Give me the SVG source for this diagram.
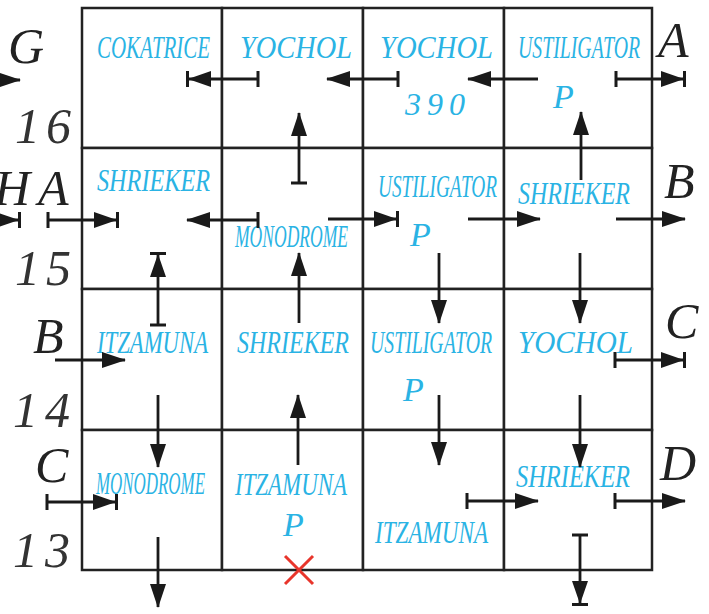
<svg xmlns="http://www.w3.org/2000/svg" width="709" height="614" viewBox="0 0 709 614">
<style>
.cell{fill:#fff;stroke:#222;stroke-width:2.5}
.lb{font-family:"Liberation Serif",serif;font-style:italic;fill:#2ab3e4;font-size:32px}
.p{font-family:"Liberation Serif",serif;font-style:italic;fill:#2ab3e4;font-size:34px}
.k{font-family:"Liberation Serif",serif;font-style:italic;fill:#222;font-size:50px}
.n{font-family:"Liberation Serif",serif;font-style:italic;fill:#333;font-size:50px}
.c line{stroke:#1a1a1a;stroke-width:2.8}
</style>
<defs>
<marker id="arr" markerUnits="userSpaceOnUse" viewBox="0 0 24 16" markerWidth="24" markerHeight="16" refX="23" refY="8" orient="auto" overflow="visible"><path d="M0,0 L24,8 L0,16 Z" fill="#1a1a1a"/></marker>
<marker id="arrbar" markerUnits="userSpaceOnUse" viewBox="0 0 26 16" markerWidth="26" markerHeight="16" refX="24" refY="8" orient="auto" overflow="visible"><path d="M0,0 L23,8 L0,16 Z" fill="#1a1a1a"/><rect x="22" y="0" width="3" height="16" fill="#1a1a1a"/></marker>
<marker id="bar" markerUnits="userSpaceOnUse" viewBox="0 0 4 16" markerWidth="4" markerHeight="16" refX="1.5" refY="8" orient="auto" overflow="visible"><rect x="0" y="0" width="3" height="16" fill="#1a1a1a"/></marker>
</defs>
<rect width="709" height="614" fill="#fff"/>

<g id="cell-0-0"><rect class="cell" x="82" y="8" width="140" height="140"/><text class="lb" x="97" y="58" textLength="113" lengthAdjust="spacingAndGlyphs">COKATRICE</text></g>
<g id="cell-0-1"><rect class="cell" x="222" y="8" width="141" height="140"/><text class="lb" x="240" y="58" textLength="112" lengthAdjust="spacingAndGlyphs">YOCHOL</text></g>
<g id="cell-0-2"><rect class="cell" x="363" y="8" width="141" height="140"/><text class="lb" x="380" y="58" textLength="113" lengthAdjust="spacingAndGlyphs">YOCHOL</text><text class="lb" x="405" y="115" textLength="60" lengthAdjust="spacing">390</text></g>
<g id="cell-0-3"><rect class="cell" x="504" y="8" width="148" height="140"/><text class="lb" x="518" y="58" textLength="122" lengthAdjust="spacingAndGlyphs">USTILIGATOR</text><text class="p" x="553" y="108">P</text></g>

<g id="cell-1-0"><rect class="cell" x="82" y="148" width="140" height="141"/><text class="lb" x="97" y="191" textLength="113" lengthAdjust="spacingAndGlyphs">SHRIEKER</text></g>
<g id="cell-1-1"><rect class="cell" x="222" y="148" width="141" height="141"/><text class="lb" x="235" y="247" textLength="113" lengthAdjust="spacingAndGlyphs">MONODROME</text></g>
<g id="cell-1-2"><rect class="cell" x="363" y="148" width="141" height="141"/><text class="lb" x="378" y="197" textLength="119" lengthAdjust="spacingAndGlyphs">USTILIGATOR</text><text class="p" x="410" y="246">P</text></g>
<g id="cell-1-3"><rect class="cell" x="504" y="148" width="148" height="141"/><text class="lb" x="518" y="204" textLength="112" lengthAdjust="spacingAndGlyphs">SHRIEKER</text></g>

<g id="cell-2-0"><rect class="cell" x="82" y="289" width="140" height="141"/><text class="lb" x="97" y="353" textLength="111" lengthAdjust="spacingAndGlyphs">ITZAMUNA</text></g>
<g id="cell-2-1"><rect class="cell" x="222" y="289" width="141" height="141"/><text class="lb" x="237" y="353" textLength="112" lengthAdjust="spacingAndGlyphs">SHRIEKER</text></g>
<g id="cell-2-2"><rect class="cell" x="363" y="289" width="141" height="141"/><text class="lb" x="370" y="353" textLength="122" lengthAdjust="spacingAndGlyphs">USTILIGATOR</text><text class="p" x="403" y="401">P</text></g>
<g id="cell-2-3"><rect class="cell" x="504" y="289" width="148" height="141"/><text class="lb" x="518" y="353" textLength="115" lengthAdjust="spacingAndGlyphs">YOCHOL</text></g>

<g id="cell-3-0"><rect class="cell" x="82" y="430" width="140" height="140"/><text class="lb" x="96" y="494" textLength="109" lengthAdjust="spacingAndGlyphs">MONODROME</text></g>
<g id="cell-3-1"><rect class="cell" x="222" y="430" width="141" height="140"/><text class="lb" x="235" y="495" textLength="112" lengthAdjust="spacingAndGlyphs">ITZAMUNA</text><text class="p" x="283" y="536">P</text></g>
<g id="cell-3-2"><rect class="cell" x="363" y="430" width="141" height="140"/><text class="lb" x="375" y="543" textLength="113" lengthAdjust="spacingAndGlyphs">ITZAMUNA</text></g>
<g id="cell-3-3"><rect class="cell" x="504" y="430" width="148" height="140"/><text class="lb" x="516" y="487" textLength="114" lengthAdjust="spacingAndGlyphs">SHRIEKER</text></g>

<g id="labels">
<text class="k" x="8" y="63">G</text>
<text class="k" x="658" y="57">A</text>
<text class="k" x="-6" y="205">H</text>
<text class="k" x="38" y="205">A</text>
<text class="k" x="664" y="198">B</text>
<text class="k" x="33" y="353">B</text>
<text class="k" x="665" y="338">C</text>
<text class="k" x="35" y="482">C</text>
<text class="k" x="660" y="480">D</text>
<text class="n" x="15" y="143" textLength="56" lengthAdjust="spacing">16</text>
<text class="n" x="15" y="285" textLength="56" lengthAdjust="spacing">15</text>
<text class="n" x="13" y="427" textLength="57" lengthAdjust="spacing">14</text>
<text class="n" x="13" y="567" textLength="57" lengthAdjust="spacing">13</text>
</g>

<g id="connectors" class="c">
<line x1="-30" y1="80" x2="20" y2="80" marker-end="url(#arr)"/>
<line x1="258" y1="79" x2="187" y2="79" marker-start="url(#bar)" marker-end="url(#arrbar)"/>
<line x1="398" y1="79" x2="327" y2="79" marker-start="url(#bar)" marker-end="url(#arr)"/>
<line x1="538" y1="79" x2="468" y2="79" marker-end="url(#arr)"/>
<line x1="616" y1="79" x2="685" y2="79" marker-start="url(#bar)" marker-end="url(#arrbar)"/>
<line x1="299" y1="183" x2="299" y2="113" marker-start="url(#bar)" marker-end="url(#arr)"/>
<line x1="581" y1="180" x2="581" y2="112" marker-end="url(#arr)"/>
<line x1="-30" y1="220" x2="20" y2="220" marker-end="url(#arrbar)"/>
<line x1="48" y1="220" x2="118" y2="220" marker-start="url(#bar)" marker-end="url(#arrbar)"/>
<line x1="258" y1="220" x2="187" y2="220" marker-start="url(#bar)" marker-end="url(#arr)"/>
<line x1="328" y1="219" x2="398" y2="219" marker-end="url(#arrbar)"/>
<line x1="468" y1="219" x2="540" y2="219" marker-end="url(#arr)"/>
<line x1="616" y1="219" x2="685" y2="219" marker-end="url(#arr)"/>
<line x1="158" y1="325" x2="158" y2="253" marker-start="url(#bar)" marker-end="url(#arrbar)"/>
<line x1="299" y1="323" x2="299" y2="253" marker-end="url(#arr)"/>
<line x1="439" y1="253" x2="439" y2="323" marker-end="url(#arr)"/>
<line x1="580" y1="253" x2="580" y2="323" marker-end="url(#arr)"/>
<line x1="55" y1="360" x2="125" y2="360" marker-end="url(#arr)"/>
<line x1="615" y1="360" x2="685" y2="360" marker-start="url(#bar)" marker-end="url(#arrbar)"/>
<line x1="158" y1="395" x2="158" y2="467" marker-end="url(#arr)"/>
<line x1="298" y1="465" x2="298" y2="395" marker-end="url(#arr)"/>
<line x1="439" y1="395" x2="439" y2="465" marker-end="url(#arr)"/>
<line x1="580" y1="395" x2="580" y2="467" marker-end="url(#arr)"/>
<line x1="47" y1="502" x2="117" y2="502" marker-start="url(#bar)" marker-end="url(#arrbar)"/>
<line x1="158" y1="537" x2="158" y2="607" marker-end="url(#arr)"/>
<line x1="467" y1="501" x2="538" y2="501" marker-start="url(#bar)" marker-end="url(#arr)"/>
<line x1="615" y1="501" x2="685" y2="501" marker-start="url(#bar)" marker-end="url(#arr)"/>
<line x1="580" y1="535" x2="580" y2="605" marker-start="url(#bar)" marker-end="url(#arrbar)"/>
</g>

<g id="mark-x" stroke="#e8352b" stroke-width="3">
<line x1="285" y1="556" x2="313" y2="584"/>
<line x1="313" y1="556" x2="285" y2="584"/>
</g>
</svg>
